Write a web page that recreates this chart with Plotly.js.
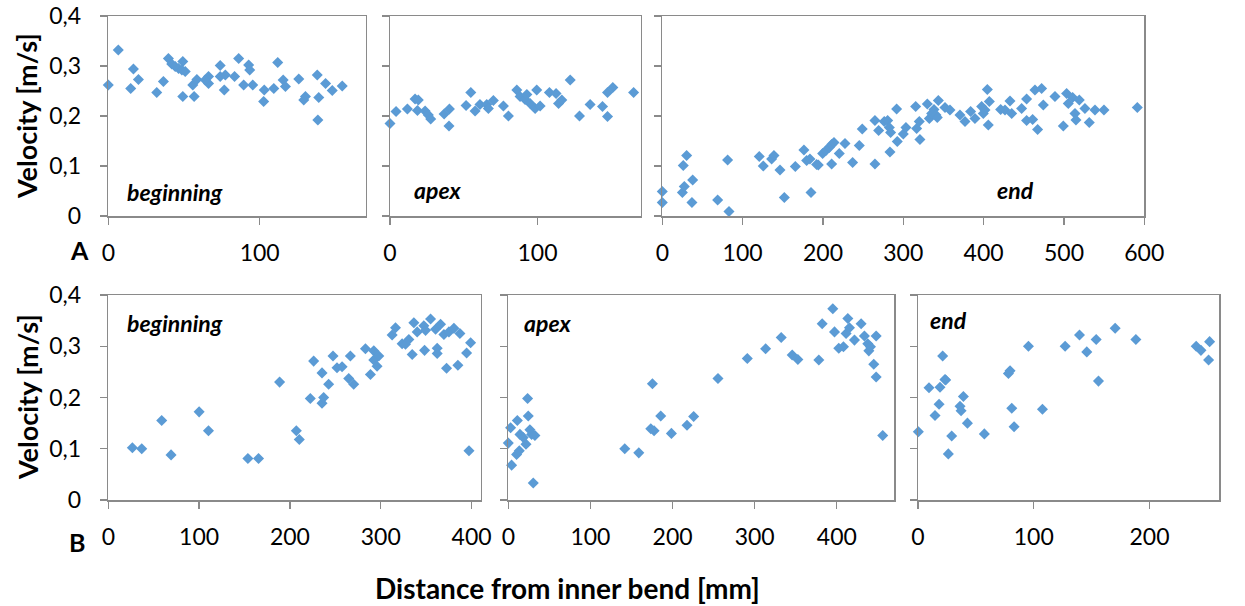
<!DOCTYPE html>
<html>
<head>
<meta charset="utf-8">
<script src="https://cdn.plot.ly/plotly-3.0.1.min.js"></script>
<style>html,body{margin:0;padding:0;background:#fff}#chart{width:1245px;height:606px}</style>
</head>
<body>
<div id="chart"></div>
<script>
// ---- Data ----
const aBegX = [0,6.6,16.6,14.8,19.9,32,36.4,39.7,41.9,44.2,46.4,49.2,48.6,50.8,49.2,55.8,56.7,58.5,66.2,66.2,64,73.9,73.9,76.6,77.3,83.4,86.1,89.4,92.7,93.4,95.4,102.6,103,109.3,111.9,115.5,117,125.8,129.1,130.2,138,139,138.4,143.5,147.9,154.5];
const aBegY = [0.262,0.332,0.294,0.255,0.273,0.247,0.269,0.315,0.304,0.299,0.295,0.309,0.292,0.289,0.239,0.262,0.239,0.273,0.279,0.265,0.272,0.301,0.279,0.252,0.282,0.279,0.315,0.262,0.302,0.292,0.262,0.229,0.252,0.255,0.307,0.272,0.259,0.274,0.232,0.239,0.282,0.237,0.192,0.265,0.251,0.26];

const aApxX = [0,4.1,11.8,17,19.2,18.6,23.8,26,27.6,36.7,40.3,40,51.6,54.8,57.7,61,65.6,66.7,70.1,76.9,80.3,86,88.2,91.6,92.8,95,98.4,99.5,101.8,108.1,112.6,114.3,116.5,122.2,128.5,135.7,144.1,147.5,147.5,151.1,165.2];
const aApxY = [0.185,0.209,0.214,0.234,0.232,0.211,0.21,0.202,0.194,0.204,0.214,0.18,0.221,0.247,0.21,0.223,0.223,0.215,0.231,0.22,0.2,0.252,0.239,0.233,0.243,0.225,0.215,0.252,0.22,0.247,0.245,0.225,0.232,0.272,0.2,0.223,0.219,0.199,0.247,0.257,0.247];

const aEndX = [0,0,25,27.4,26.1,30.3,37.8,36.9,68.9,81.3,83,120.7,125.7,136.1,139,146.5,151.9,165.6,176.3,179.7,183.8,185.1,192.1,194.2,199.6,203.7,207.9,210.8,213.7,210.8,220.3,227.4,236.9,245.2,248.9,264.7,264.7,269.3,276.3,280.5,282.6,284.2,283.4,291.7,292.5,300,303.3,315.4,316.6,319.9,320.7,329.9,332.4,335.3,338.2,340.7,343.6,342.3,351.9,358.1,370.5,376.8,383.8,389.2,397.5,399.6,404.6,407.1,405.8,401.7,421.2,426.6,432.8,434.9,447.3,453.5,453.5,461,463.9,472.2,474.3,467.2,488.8,499.2,503.3,505.4,510.8,513.7,514.9,519.1,526.1,531.5,538.6,549.8,591.3];
const aEndY = [0.049,0.027,0.047,0.059,0.101,0.121,0.072,0.027,0.032,0.112,0.009,0.119,0.1,0.114,0.121,0.092,0.037,0.099,0.132,0.111,0.114,0.047,0.103,0.102,0.125,0.131,0.137,0.143,0.147,0.104,0.125,0.145,0.107,0.141,0.174,0.191,0.104,0.171,0.189,0.191,0.177,0.167,0.128,0.214,0.149,0.164,0.177,0.219,0.175,0.189,0.153,0.224,0.195,0.205,0.213,0.202,0.231,0.197,0.217,0.212,0.202,0.189,0.209,0.195,0.219,0.205,0.253,0.229,0.182,0.212,0.213,0.212,0.23,0.205,0.215,0.234,0.191,0.193,0.252,0.255,0.222,0.173,0.239,0.18,0.245,0.225,0.237,0.205,0.192,0.232,0.215,0.187,0.212,0.212,0.217];

const bBegX = [26.5,36.8,58.8,69.1,100,110.3,153.7,165.4,188.6,207,210.3,222.4,226.1,235.3,235.3,237.1,242.6,247.4,251.8,257.4,264.7,266.5,270.2,283.1,288.6,292.3,292.3,295.9,297.8,312.5,316.2,323.5,327.2,330.9,334.6,336.4,340.1,347.4,348.2,349.3,354.8,360.3,362.1,362.1,365.8,369.5,372.4,375,380.5,384.9,387.1,394.5,398.9,397.1];
const bBegY = [0.102,0.1,0.155,0.088,0.172,0.135,0.081,0.081,0.23,0.135,0.118,0.198,0.271,0.248,0.189,0.2,0.226,0.281,0.258,0.26,0.237,0.281,0.226,0.295,0.245,0.291,0.273,0.261,0.281,0.322,0.336,0.305,0.304,0.313,0.284,0.346,0.328,0.34,0.292,0.331,0.353,0.333,0.296,0.286,0.343,0.323,0.257,0.328,0.335,0.263,0.325,0.287,0.307,0.096];

const bApxX = [0,2.8,4,11,10.1,13.4,14.2,18.2,21.5,23.5,24.3,26.3,28.4,32.4,30.4,141.8,158.9,175.5,173.5,177.5,185.6,198.6,217.6,225.7,255.3,291,313.3,332.3,345.7,352.6,378.1,382.2,395.1,397.2,402.4,408.1,413.4,411.3,415.4,421.5,429.6,433.6,437.7,439,441,447.9,445,447.9,455.9];
const bApxY = [0.111,0.141,0.068,0.155,0.089,0.096,0.128,0.122,0.109,0.198,0.164,0.137,0.128,0.126,0.033,0.1,0.092,0.227,0.139,0.135,0.164,0.13,0.146,0.163,0.237,0.276,0.295,0.317,0.283,0.274,0.273,0.344,0.373,0.328,0.296,0.299,0.354,0.325,0.336,0.312,0.344,0.32,0.305,0.291,0.299,0.32,0.265,0.24,0.126];

const bEndX = [0.3,9.5,14.7,18.2,19,21.3,23.3,23.9,26.2,29.1,36.3,37.2,39.2,42.7,57.3,78.1,79.5,81,83,95.4,107.5,127.1,139.5,145.8,153.9,155.9,170.3,188.2,240.3,244.4,251,251.9];
const bEndY = [0.133,0.219,0.165,0.187,0.22,0.281,0.235,0.234,0.09,0.125,0.183,0.174,0.202,0.15,0.129,0.247,0.252,0.179,0.143,0.3,0.177,0.3,0.322,0.289,0.313,0.232,0.335,0.313,0.3,0.292,0.273,0.309];

const yTickVals = [0, 0.1, 0.2, 0.3, 0.4];
const yTickText = ['0', '0,1', '0,2', '0,3', '0,4'];
const xTickStep = 100;
const panelNames = ['beginning', 'apex', 'end', 'beginning', 'apex', 'end'];

// ---- Styling ----
const W = 1245, H = 606;
const FONT = 'Lato, "Open Sans", sans-serif';
const MARK = '#5B9BD5';
const FRAME = '#8a8a8a';
const px = v => v / W;
const py = v => 1 - v / H;

const series = [[aBegX,aBegY],[aApxX,aApxY],[aEndX,aEndY],[bBegX,bBegY],[bApxX,bApxY],[bEndX,bEndY]];
const xRanges = [[0,170],[0,170],[0,600],[0,410],[0,470],[0,260]];
const xDom = [[108.3,365.7],[390,640.7],[662.3,1144.3],[108.3,480.7],[508.3,894.3],[918,1219]];
const yDom = [[16,216],[16,216],[16,216],[295,500],[295,500],[295,500]];

const traces = series.map((s, i) => ({
  type: 'scatter', mode: 'markers',
  x: s[0], y: s[1],
  xaxis: 'x' + (i ? i + 1 : ''), yaxis: 'y' + (i ? i + 1 : ''),
  marker: {symbol: 'diamond', size: 8.5, color: MARK, line: {width: 0}},
  cliponaxis: false, hoverinfo: 'x+y', showlegend: false
}));

const layout = {
  width: W, height: H,
  margin: {l: 0, r: 0, t: 0, b: 0},
  paper_bgcolor: '#fff', plot_bgcolor: '#fff',
  font: {family: FONT, size: 23, color: '#000'},
  showlegend: false,
  annotations: []
};

for (let i = 0; i < 6; i++) {
  const sx = i ? String(i + 1) : '';
  layout['xaxis' + sx] = {
    domain: [px(xDom[i][0]), px(xDom[i][1])],
    range: xRanges[i], anchor: 'y' + sx,
    tick0: 0, dtick: xTickStep, ticks: 'outside', ticklen: 7, tickwidth: 1.3, tickcolor: FRAME,
    showline: true, linecolor: FRAME, linewidth: 1.5, mirror: true,
    showgrid: false, zeroline: false, fixedrange: true,
    tickfont: {family: FONT, size: 23, color: '#000'}, ticklabelstandoff: 9
  };
  layout['yaxis' + sx] = {
    domain: [py(yDom[i][1]), py(yDom[i][0])],
    range: [0, 0.4], anchor: 'x' + sx,
    tickmode: 'array', tickvals: yTickVals, ticktext: yTickText,
    ticks: 'outside', ticklen: 7, tickwidth: 1.3, tickcolor: FRAME,
    showticklabels: (i === 0 || i === 3),
    showline: true, linecolor: FRAME, linewidth: 1.5, mirror: true,
    showgrid: false, zeroline: false, fixedrange: true,
    tickfont: {family: FONT, size: 23, color: '#000'}, ticklabelstandoff: 14
  };
}

const panelLabelPos = [[175,192],[438,190],[1015,190],[175,323],[548,323],[949,320]];
panelNames.forEach((t, i) => layout.annotations.push({
  text: '<b><i>' + t + '</i></b>', xref: 'paper', yref: 'paper',
  x: px(panelLabelPos[i][0]), y: py(panelLabelPos[i][1]),
  xanchor: 'center', yanchor: 'middle', showarrow: false,
  font: {family: FONT, size: 23, color: '#000'}
}));

[[27,116],[27,397]].forEach(p => layout.annotations.push({
  text: '<b>Velocity [m/s]</b>', xref: 'paper', yref: 'paper',
  x: px(p[0]), y: py(p[1]), textangle: -90,
  xanchor: 'center', yanchor: 'middle', showarrow: false,
  font: {family: FONT, size: 27, color: '#000'}
}));

[['A',79,250],['B',77,542]].forEach(p => layout.annotations.push({
  text: '<b>' + p[0] + '</b>', xref: 'paper', yref: 'paper',
  x: px(p[1]), y: py(p[2]), xanchor: 'center', yanchor: 'middle', showarrow: false,
  font: {family: FONT, size: 25, color: '#000'}
}));

layout.annotations.push({
  text: '<b>Distance from inner bend [mm]</b>', xref: 'paper', yref: 'paper',
  x: px(567), y: py(588), xanchor: 'center', yanchor: 'middle', showarrow: false,
  font: {family: FONT, size: 28, color: '#000'}
});

Plotly.newPlot('chart', traces, layout, {displayModeBar: false, staticPlot: true});
</script>
</body>
</html>
